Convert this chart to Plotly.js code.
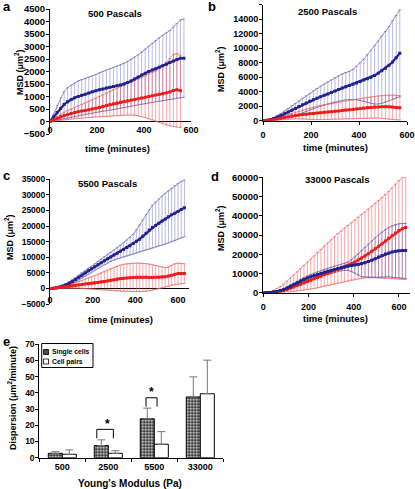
<!DOCTYPE html>
<html><head><meta charset="utf-8">
<script src="https://cdn.plot.ly/plotly-3.0.1.min.js"></script>
<style>html,body{margin:0;padding:0;background:#fff}#g{width:415px;height:489px}</style>
</head><body><div id="g"></div>
<script>
// ---------- data ----------
const tA  = [0,15,30,45,60,75,90,105,120,135,150,165,180,195,210,225,240,255,270,285,300,315,330,345,360,375,390,405,420,435,450,465,480,495,510,525,540,555,570];
const tAr = [0,15,30,45,60,75,90,105,120,135,150,165,180,195,210,225,240,255,270,285,300,315,330,345,360,375,390,405,420,435,450,465,480,495,510,525,540,555];
const tC  = [0,15,30,45,60,75,90,105,120,135,150,165,180,195,210,225,240,255,270,285,300,315,330,345,360,375,390,405,420,435,450,465,480,495,510,525,540,555,570,585,600,615,630];

// panel a : 500 Pa
const aBlueMean = [0,180,360,520,680,790,880,950,1000,1050,1090,1140,1190,1230,1270,1300,1340,1370,1400,1430,1460,1500,1560,1620,1700,1780,1860,1930,2000,2060,2110,2170,2230,2290,2360,2420,2480,2530,2530];
const aBlueHi   = [0,300,650,950,1200,1350,1460,1540,1620,1680,1730,1780,1830,1880,1950,2000,2060,2110,2160,2210,2260,2330,2400,2480,2570,2670,2780,2900,3010,3130,3240,3350,3450,3550,3640,3780,3920,4060,4100];
const aBlueLo   = [0,20,50,80,110,140,170,200,230,260,290,320,340,370,390,410,430,450,480,500,530,550,580,610,640,660,690,710,740,760,790,810,830,860,880,900,930,950,970];
const aRedMean  = [0,60,130,190,240,280,320,360,390,420,440,470,500,530,560,600,640,680,710,740,770,800,830,860,880,910,940,970,1000,1030,1060,1090,1110,1140,1180,1240,1270,1230];
const aRedHi    = [0,100,200,290,370,440,500,560,620,680,740,800,860,930,1000,1070,1140,1210,1270,1330,1390,1450,1510,1570,1630,1690,1750,1820,1890,1960,2030,2120,2230,2370,2520,2680,2720,2650];
const aRedLo    = [0,20,40,50,70,80,100,110,120,140,150,160,170,180,190,200,210,220,230,240,250,260,260,260,250,230,200,160,110,60,10,-40,-90,-130,-170,-200,-220,-240];

// panel b : 2500 Pa
const bBlueMean = [0,60,150,300,480,700,950,1200,1450,1700,1950,2200,2450,2680,2900,3100,3300,3500,3700,3900,4100,4300,4500,4680,4850,5020,5200,5400,5600,5800,6000,6250,6550,6900,7250,7650,8100,8700,9300];
const bBlueHi   = [0,100,250,450,700,1000,1350,1700,2050,2400,2750,3100,3450,3800,4150,4450,4750,5050,5350,5650,5950,6200,6450,6650,6800,7100,7500,8000,8500,9100,9700,10400,11000,11700,12300,13000,13800,14500,15300];
const bBlueLo   = [0,20,60,120,200,290,390,500,620,750,900,1050,1250,1450,1650,1850,2000,2150,2300,2450,2580,2700,2800,2880,2930,2930,2880,2780,2650,2500,2380,2300,2300,2380,2550,2750,2950,3150,3300];
const bRedMean  = [0,30,80,150,250,350,450,550,640,720,790,850,900,950,1000,1050,1100,1150,1200,1250,1300,1350,1400,1460,1520,1580,1640,1700,1760,1810,1850,1880,1900,1920,1930,1920,1880,1830,1780];
const bRedHi    = [0,60,150,280,430,580,730,880,1030,1180,1330,1480,1620,1750,1870,1990,2100,2200,2290,2380,2460,2540,2620,2700,2790,2880,2970,3060,3150,3230,3300,3360,3410,3460,3500,3520,3520,3500,3460];
const bRedLo    = [0,0,10,20,70,120,170,220,250,260,250,220,180,160,150,140,150,160,180,200,220,240,250,260,270,280,300,320,340,360,380,380,360,320,260,200,150,120,100];

// panel c : 5500 Pa
const cBlueMean = [0,50,200,450,750,1150,1650,2200,2850,3550,4250,4950,5650,6300,6950,7600,8250,8900,9500,10100,10700,11300,11900,12500,13100,13700,14400,15100,15800,16700,17700,18700,19500,20200,20900,21600,22300,23000,23600,24100,24700,25300,25900];
const cBlueHi   = [0,80,280,600,1000,1500,2100,2800,3500,4300,5100,5800,6500,7200,7900,8700,9400,10200,10900,11600,12300,13100,13900,14700,15500,16300,17400,18800,20400,22000,23700,25300,26700,27700,28700,29700,30500,31300,32100,33000,33700,34300,34800];
const cBlueLo   = [0,20,120,300,500,800,1200,1600,2100,2700,3300,3900,4600,5200,5900,6500,7100,7700,8200,8700,9100,9500,9800,10100,10400,10700,11000,11400,11800,12100,12400,12700,13000,13300,13600,13900,14200,14600,15000,15400,15800,16200,16600];
const cRedMean  = [0,50,150,280,420,570,720,870,1000,1130,1250,1380,1500,1630,1760,1900,2050,2200,2400,2600,2800,3000,3150,3250,3350,3450,3500,3550,3580,3580,3560,3540,3530,3550,3580,3650,3750,3950,4250,4550,4750,4800,4800];
const cRedHi    = [0,80,250,450,700,950,1250,1550,1850,2200,2550,2900,3300,3700,4100,4550,5000,5450,5900,6350,6800,7200,7500,7750,7900,8000,8050,8100,8100,8050,7950,7800,7600,7350,7100,6850,6700,6900,7400,7900,8100,8000,7900];
const cRedLo    = [0,20,50,100,140,180,190,190,150,80,0,-80,-150,-220,-300,-380,-450,-520,-600,-680,-760,-820,-860,-900,-940,-980,-1020,-1050,-1050,-1000,-900,-750,-550,-300,-50,200,500,800,1100,1300,1400,1500,1600];

// panel d : 33000 Pa
const dBlueMean = [0,50,150,350,650,1100,1700,2500,3400,4300,5200,6100,6900,7600,8300,8900,9500,10000,10600,11100,11600,12100,12600,13000,13400,13800,14100,14400,14700,15100,15600,16200,16900,17700,18500,19300,20100,20700,21200,21600,21800,21900,21900];
const dBlueHi   = [0,60,200,450,850,1400,2100,3000,4000,5000,6000,7000,7900,8700,9500,10200,10900,11500,12100,12700,13200,13700,14200,14600,15200,16000,17200,18600,20200,21900,23600,25300,27000,28600,30100,31500,32800,33900,34800,35400,35800,36000,36000];
const dBlueLo   = [0,40,100,250,450,800,1300,2000,2800,3600,4400,5200,5900,6500,7100,7600,8100,8500,9100,9500,10000,10500,11000,11400,11600,11600,11000,10200,9200,8300,8200,8100,8000,8000,8000,8100,8200,8300,8000,7800,7700,7500,7400];
const dRedMean  = [0,50,150,300,500,800,1200,1700,2300,3000,3700,4400,5100,5800,6500,7200,7900,8600,9300,10000,10700,11400,12100,12700,13400,14200,15000,15900,17000,18000,19100,20300,21500,22800,24100,25500,26900,28300,29700,31000,32300,33300,33900];
const dRedHi    = [0,200,600,1200,2100,3200,4500,6000,7600,9200,10900,12500,14200,15900,17500,19200,20900,22600,24300,25900,27500,29100,30700,32200,33600,35000,36400,37800,39200,40600,42000,43400,44900,46400,47900,49400,51000,52700,54500,56400,58300,60000,60000];
const dRedLo    = [0,0,20,50,100,170,260,380,520,700,900,1100,1350,1600,1900,2200,2600,3000,3400,3800,4200,4600,5000,5400,5800,6200,6600,7000,7300,7500,7700,7800,7800,7800,7700,7600,7500,7400,7300,7200,7100,7000,6900];

// panel e : dispersion bars
const modulus      = ['500','2500','5500','33000'];
const singleCells  = [2.7, 7.5, 24, 37.5];
const singleErr    = [1.0, 3.5, 6.6, 12.4];
const cellPairs    = [2.1, 2.7, 8.3, 39.5];
const pairsErr     = [2.7, 1.6, 7.8, 20.7];
const legendNames  = ['Single cells', 'Cell pairs'];

// ---------- layout helpers ----------
const W = 415, H = 489;
const X = p => p / W;
const Y = p => 1 - p / H;
const FONT = 'Liberation Sans, Arial, sans-serif';
const BLUE = '#22228e', RED = '#ee1c1c';
const BLUE_ERR = 'rgba(80,80,180,0.5)', RED_ERR = 'rgba(240,70,70,0.6)';
const BLUE_ENV = 'rgba(100,90,170,0.85)', RED_ENV = 'rgba(235,110,110,0.85)';

const traces = [];
function panel(n, t, mean, hi, lo, errCol, envCol) {
  const xa = 'x' + (n === 1 ? '' : n), ya = 'y' + (n === 1 ? '' : n);
  traces.push({
    x: t, y: mean, xaxis: xa, yaxis: ya, type: 'scatter', mode: 'markers',
    marker: {size: 1, color: 'rgba(0,0,0,0)'}, showlegend: false, hoverinfo: 'skip',
    error_y: {type: 'data', symmetric: false,
      array: hi.map((h, i) => Math.max(0, h - mean[i])),
      arrayminus: lo.map((l, i) => Math.max(0, mean[i] - l)),
      color: errCol, thickness: 0.8, width: 1.5}
  });
  traces.push({x: t, y: hi, xaxis: xa, yaxis: ya, type: 'scatter', mode: 'lines',
    line: {color: envCol, width: 0.8}, showlegend: false, hoverinfo: 'skip'});
  traces.push({x: t, y: lo, xaxis: xa, yaxis: ya, type: 'scatter', mode: 'lines',
    line: {color: envCol, width: 0.8}, showlegend: false, hoverinfo: 'skip'});
}
function meanLine(n, t, mean, col) {
  const xa = 'x' + (n === 1 ? '' : n), ya = 'y' + (n === 1 ? '' : n);
  traces.push({x: t, y: mean, xaxis: xa, yaxis: ya, type: 'scatter', mode: 'lines+markers',
    line: {color: col, width: 2.2}, marker: {color: col, size: 3, symbol: 'square'},
    showlegend: false, hoverinfo: 'skip'});
}
panel(1, tA, aBlueMean, aBlueHi, aBlueLo, BLUE_ERR, BLUE_ENV);
panel(1, tAr, aRedMean, aRedHi, aRedLo, RED_ERR, RED_ENV);
meanLine(1, tA, aBlueMean, BLUE); meanLine(1, tAr, aRedMean, RED);

panel(2, tA, bBlueMean, bBlueHi, bBlueLo, BLUE_ERR, BLUE_ENV);
panel(2, tA, bRedMean, bRedHi, bRedLo, RED_ERR, RED_ENV);
meanLine(2, tA, bBlueMean, BLUE); meanLine(2, tA, bRedMean, RED);

panel(3, tC, cBlueMean, cBlueHi, cBlueLo, BLUE_ERR, BLUE_ENV);
panel(3, tC, cRedMean, cRedHi, cRedLo, RED_ERR, RED_ENV);
meanLine(3, tC, cBlueMean, BLUE); meanLine(3, tC, cRedMean, RED);

panel(4, tC, dRedMean, dRedHi, dRedLo, RED_ERR, RED_ENV);
panel(4, tC, dBlueMean, dBlueHi, dBlueLo, BLUE_ERR, BLUE_ENV);
meanLine(4, tC, dRedMean, RED); meanLine(4, tC, dBlueMean, BLUE);

traces.push({type: 'bar', name: legendNames[0], x: modulus, y: singleCells, xaxis: 'x5', yaxis: 'y5',
  marker: {color: '#333', line: {color: '#000', width: 1},
    pattern: {shape: '.', fgcolor: '#ffffff', bgcolor: '#2a2a2a', size: 3, solidity: 0.4}},
  error_y: {type: 'data', array: singleErr, arrayminus: singleErr.map(() => 0), symmetric: false, color: '#777', thickness: 1, width: 4},
  showlegend: false, hoverinfo: 'skip'});
traces.push({type: 'bar', name: legendNames[1], x: modulus, y: cellPairs, xaxis: 'x5', yaxis: 'y5',
  marker: {color: '#ffffff', line: {color: '#000', width: 1}},
  error_y: {type: 'data', array: pairsErr, arrayminus: pairsErr.map(() => 0), symmetric: false, color: '#777', thickness: 1, width: 4},
  showlegend: false, hoverinfo: 'skip'});

const tickF = {family: FONT, size: 9, color: '#000', weight: 'bold'};
function yax(bot, top, range, dtick, anchor, zero, fs) {
  return {domain: [Y(bot), Y(top)], range: range, dtick: dtick, anchor: anchor, tickformat: 'd',
    showline: true, linecolor: '#000', linewidth: 1, ticks: 'outside', ticklen: 3, tickcolor: '#000',
    showgrid: false, zeroline: !!zero, zerolinecolor: '#000', zerolinewidth: 1,
    tickfont: Object.assign({}, tickF, {size: fs || 9}), ticklabelstandoff: -1, fixedrange: true};
}
function xax(l, r, range, anchor, line, standoff) {
  return {domain: [X(l), X(r)], range: range, anchor: anchor, tickvals: [0, 200, 400, 600],
    showline: line, linecolor: '#000', linewidth: 1, ticks: line ? 'outside' : '', ticklen: 3, tickcolor: '#000',
    showgrid: false, zeroline: false, tickfont: tickF, ticklabelstandoff: standoff, fixedrange: true};
}

const ann = [];
function txt(x, y, s, size, extra) {
  ann.push(Object.assign({xref: 'paper', yref: 'paper', x: X(x), y: Y(y), text: s, showarrow: false,
    xanchor: 'center', yanchor: 'middle', font: {family: FONT, size: size, color: '#000', weight: 'bold'}}, extra || {}));
}
// panel letters
txt(7, 6, 'a', 13); txt(212, 7, 'b', 13); txt(6, 175, 'c', 13); txt(215, 176, 'd', 13); txt(6, 341, 'e', 13);
// panel titles
txt(115, 14, '500 Pascals', 9.5); txt(327, 12, '2500 Pascals', 9.5);
txt(107, 183, '5500 Pascals', 9.5); txt(337, 179, '33000 Pascals', 9.5);
// axis titles
const msd = 'MSD (μm<sup>2</sup>)';
txt(19, 72, msd, 9, {textangle: -90}); txt(220, 69, msd, 9, {textangle: -90});
txt(9, 237, msd, 9, {textangle: -90}); txt(220, 228, msd, 9, {textangle: -90});
txt(117, 148, 'time (minutes)', 9.5); txt(335, 147, 'time (minutes)', 9.5);
txt(120, 319, 'time (minutes)', 9.5); txt(335, 318, 'time (minutes)', 9.5);
txt(12, 398, 'Dispersion (μm<sup>2</sup>/minute)', 9, {textangle: -90});
txt(130, 483, "Young's Modulus (Pa)", 10);
// legend texts (panel e)
txt(50, 352, legendNames[0], 6.8, {xanchor: 'left'});
txt(50, 361.5, legendNames[1], 6.8, {xanchor: 'left'});
// significance stars
ann.push({xref: 'x5', yref: 'y5', x: 0.98, y: 20.8, text: '*', showarrow: false, font: {family: FONT, size: 12, color: '#000', weight: 'bold'}});
ann.push({xref: 'x5', yref: 'y5', x: 1.94, y: 40.5, text: '*', showarrow: false, font: {family: FONT, size: 12, color: '#000', weight: 'bold'}});

const shapes = [
  {type: 'path', xref: 'x5', yref: 'y5', path: 'M 0.75 12 L 0.75 17.5 L 1.11 17.5 L 1.11 12', line: {color: '#000', width: 1}},
  {type: 'path', xref: 'x5', yref: 'y5', path: 'M 1.82 31.5 L 1.82 37 L 2.06 37 L 2.06 31.5', line: {color: '#000', width: 1}},
  // legend box and swatches
  {type: 'rect', xref: 'paper', yref: 'paper', x0: X(41.7), x1: X(93), y0: Y(367.5), y1: Y(343.5), line: {color: '#000', width: 1}, fillcolor: '#fff'},
  {type: 'rect', xref: 'paper', yref: 'paper', x0: X(43.5), x1: X(48.5), y0: Y(354.5), y1: Y(349.5), line: {color: '#000', width: 0.8}, fillcolor: '#4a4a4a'},
  {type: 'rect', xref: 'paper', yref: 'paper', x0: X(43.5), x1: X(48.5), y0: Y(364), y1: Y(359), line: {color: '#000', width: 0.8}, fillcolor: '#fff'}
];

const layout = {
  width: W, height: H, margin: {l: 0, r: 0, t: 0, b: 0}, paper_bgcolor: '#fff', plot_bgcolor: 'rgba(0,0,0,0)',
  font: {family: FONT, color: '#000'}, showlegend: false,
  barmode: 'group', bargap: 0.39, bargroupgap: 0,
  xaxis:  xax(50, 191, [0, 600], 'y', false, -11),
  yaxis:  yax(134, 9, [-500, 4500], 500, 'x', true, 9.5),
  xaxis2: xax(263, 407, [0, 600], 'y2', true, 2),
  yaxis2: yax(120.7, 4.7, [0, 16000], 2000, 'x2', false, 9),
  xaxis3: xax(50, 188.7, [0, 650], 'y3', false, -11),
  yaxis3: yax(304, 179.3, [-5000, 35000], 5000, 'x3', true, 8.5),
  xaxis4: xax(263.3, 410.2, [0, 650], 'y4', true, 2),
  yaxis4: yax(292.7, 177.3, [0, 60000], 10000, 'x4', false, 9.5),
  xaxis5: {domain: [X(39.3), X(223.3)], type: 'category', anchor: 'y5', showline: true, linecolor: '#000',
    ticks: 'outside', tickson: 'boundaries', ticklen: 3, tickcolor: '#000', tickfont: tickF, showgrid: false, fixedrange: true},
  yaxis5: yax(457.7, 344.3, [0, 70], 10, 'x5', false, 8.5),
  annotations: ann, shapes: shapes
};
Plotly.newPlot('g', traces, layout, {staticPlot: true, displayModeBar: false});
</script></body></html>
